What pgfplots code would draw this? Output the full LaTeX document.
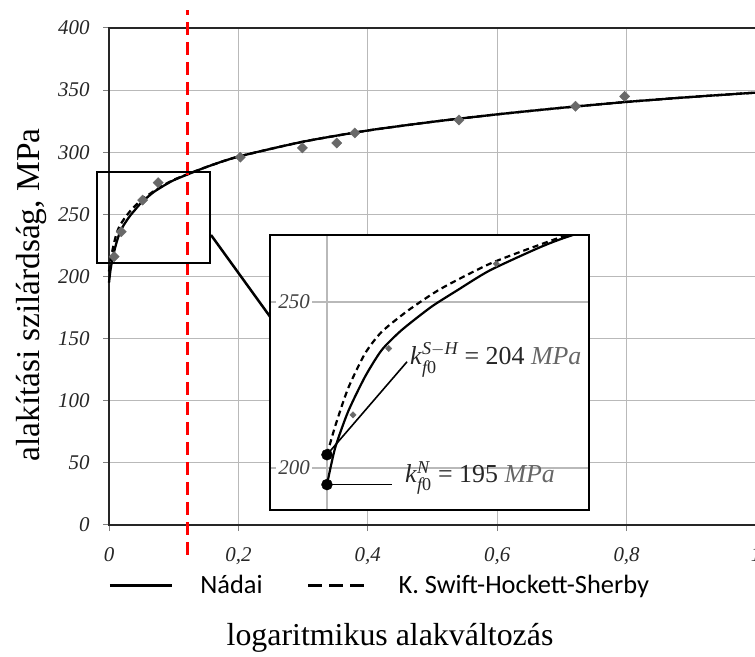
\documentclass[border=0pt]{standalone}
\usepackage{amsmath}
\usepackage{fontspec}
\setmainfont{Liberation Serif}
\newfontfamily\legfont{Carlito}
\usepackage{pgfplots}
\pgfplotsset{compat=1.18}
\usepackage{pgfplotstable}

\pgfplotstableread{
e k
0 195
0.0025 206
0.0065 217
0.0117 227.5
0.0168 235.5
0.0229 241.5
0.032 248.5
0.04 253.5
0.05 259.5
0.0655 266.5
0.075 270
0.1 277.5
0.15 288
0.2 296.5
0.3 308.5
0.4 317.5
0.5 324.5
0.6 330.5
0.7 335.8
0.8 340.5
0.9 344.5
1.0 348
}\nadai

\pgfplotstableread{
e k
0 204
0.0025 212.5
0.0065 224
0.0117 234.5
0.0168 241
0.025 247.5
0.035 254
0.05 261.5
0.0655 267.3
0.075 270.5
0.1 277.8
0.15 288
0.2 296.5
0.3 308.5
0.4 317.5
0.5 324.5
0.6 330.5
0.7 335.8
0.8 340.5
0.9 344.5
1.0 348
}\shs

\pgfplotstableread{
e k
0.008 216
0.019 236
0.052 261.5
0.076 275.5
0.203 296
0.299 303.5
0.352 307.5
0.38 315.5
0.541 326
0.721 337
0.797 345
}\meas

\definecolor{gridgray}{RGB}{185,185,185}
\definecolor{markgray}{RGB}{105,105,105}

\begin{document}
\begin{tikzpicture}
\begin{axis}[
  at={(109bp,132bp)}, anchor=south west,
  scale only axis, width=647bp, height=497bp,
  xmin=0, xmax=1, ymin=0, ymax=400,
  xtick={0,0.2,0.4,0.6,0.8,1},
  xticklabels={0,{0,2},{0,4},{0,6},{0,8},1},
  ytick={0,50,100,150,200,250,300,350,400},
  yticklabels={0,50,100,150,200,250,300,350,400},
  grid=major,
  major grid style={draw=gridgray, line width=1.2bp},
  axis line style={black!85, line width=1.5bp},
  tick pos=left, tick align=outside,
  major tick length=6bp,
  tick style={black!50, line width=1bp},
  ticklabel style={font=\fontsize{21}{21}\selectfont\itshape, text=black!85},
  xticklabel style={yshift=-13bp},
  yticklabel style={xshift=-10bp},
  clip=false,
  legend image code/.code={\draw[#1] (0bp,0bp) -- (62bp,0bp);},
  legend style={at={(axis description cs:-0.006,-0.121)}, anchor=west,
    draw=none, fill=none, font=\legfont\fontsize{26.5}{26.5}\selectfont,
    /tikz/every odd column/.append style={column sep=25bp},
    /tikz/every even column/.append style={column sep=42bp}},
  legend columns=2,
]
\addlegendimage{black, line width=3bp}
\addlegendentry{Nádai}
\addlegendimage{black, line width=3bp, dash pattern=on 14bp off 7bp}
\addlegendentry{K. Swift-Hockett-Sherby}

\addplot[forget plot, only marks, mark=square*, mark size=3.6bp,
  mark options={rotate=45, fill=markgray, draw=markgray}] table[x=e,y=k] {\meas};
\addplot[forget plot, black, line width=2.3bp, dash pattern=on 6bp off 4bp, smooth, tension=0.4] table[x=e,y=k] {\shs};
\addplot[forget plot, black, line width=2.3bp, smooth, tension=0.4] table[x=e,y=k] {\nadai};

\addplot[forget plot, red, line width=3bp, dash pattern=on 13bp off 7bp]
  coordinates {(0.121,-24) (0.121,414.5)};

\draw[black, line width=2bp] (axis cs:-0.0186,210.9) rectangle (axis cs:0.1566,284.1);
\end{axis}

\draw[black, line width=2.5bp] (211bp,422bp) -- (271bp,339bp);

\begin{axis}[
  at={(270bp,147bp)}, anchor=south west,
  scale only axis, width=319bp, height=275bp,
  xmin=-0.0175, xmax=0.0805, ymin=187.35, ymax=270.18,
  scaled ticks=false,
  xtick={0}, ytick={200,250},
  xticklabels={}, yticklabels={},
  major tick length=0bp,
  grid=major,
  major grid style={draw=gridgray, line width=1.2bp},
  axis line style={black, line width=2bp},
  axis background/.style={fill=white},
]
\addplot[only marks, mark=square*, mark size=2.2bp,
  mark options={rotate=45, fill=markgray, draw=markgray}] table[x=e,y=k] {\meas};
\addplot[black, line width=2.2bp, dash pattern=on 6bp off 4bp, smooth, tension=0.4] table[x=e,y=k] {\shs};
\addplot[black, line width=2.2bp, smooth, tension=0.4] table[x=e,y=k] {\nadai};
\addplot[black, line width=1.6bp] coordinates {(0,204) (0.0246,232)};
\addplot[black, line width=1.6bp] coordinates {(0,195) (0.02,195)};
\addplot[only marks, mark=*, mark size=5.5bp, black] coordinates {(0,204) (0,195)};
\end{axis}

\node[anchor=east, fill=white, inner xsep=2bp, font=\fontsize{21}{21}\selectfont\itshape, text=black!75] at (312bp,355bp) {250};
\node[anchor=east, fill=white, inner xsep=2bp, font=\fontsize{21}{21}\selectfont\itshape, text=black!75] at (312bp,189bp) {200};

\node[anchor=west, inner sep=0pt, font=\fontsize{26}{26}\selectfont, text=black!85] at (410bp,297bp)
  {\textit{k}$^{\textit{S}-\textit{H}}_{\textit{f}\text{0}}$ = 204 \textcolor{black!60}{\textit{MPa}}};
\node[anchor=west, inner sep=0pt, font=\fontsize{26}{26}\selectfont, text=black!85] at (405bp,179bp)
  {\textit{k}$^{\textit{N}}_{\textit{f}\text{0}}$ = 195 \textcolor{black!60}{\textit{MPa}}};

\node[rotate=90, font=\fontsize{33.5}{33.5}\selectfont] at (31bp,362bp) {alakítási szilárdság, MPa};
\node[anchor=base, font=\fontsize{32}{32}\selectfont] at (390bp,12bp) {logaritmikus alakváltozás};

\pgfresetboundingbox
\useasboundingbox (0bp,0bp) rectangle (755bp,657bp);
\end{tikzpicture}
\end{document}
